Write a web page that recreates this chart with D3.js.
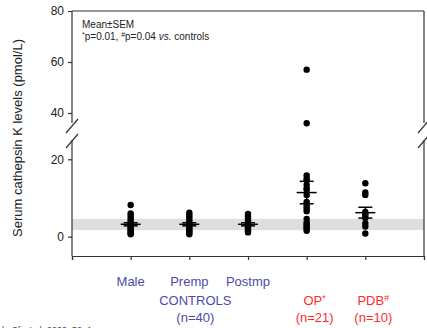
<!DOCTYPE html>
<html>
<head>
<meta charset="utf-8">
<script src="https://cdn.jsdelivr.net/npm/d3@7"></script>
<style>
  body { margin: 0; background: #fff; }
  svg { display: block; font-family: Arial, "Liberation Sans", sans-serif; }
</style>
</head>
<body>
<div id="chart"></div>
<script>
// groups, left to right
var groups = ["Male", "Premp", "Postmp", "OP", "PDB"];

// individual values (pmol/L)
var maleVals = [8.2, 6.0, 5.4, 4.8, 4.2, 3.6, 3.2, 2.8, 2.4, 2.0, 1.6, 1.2, 0.9, 0.6];
var prempVals = [6.2, 5.6, 5.0, 4.4, 3.8, 3.4, 3.0, 2.6, 2.2, 1.8, 1.4, 1.0, 0.6];
var postmpVals = [5.9, 5.3, 4.7, 4.2, 3.7, 3.3, 3.0, 2.7, 2.3, 2.0, 1.7, 1.4, 1.1];
var opVals = [57, 36, 15.8, 15.0, 14.6, 13.4, 12.5, 12.1, 10.8, 9.0, 8.5, 7.8, 7.2, 6.6,
              4.6, 3.7, 3.2, 2.8, 2.4, 2.0, 1.5];
var pdbVals = [13.8, 11.4, 10.8, 6.4, 5.9, 5.4, 4.8, 3.4, 2.6, 0.8];

// mean and SEM as drawn
var means = [3.2, 3.2, 3.2, 11.4, 6.2];
var sems = [0.4, 0.4, 0.4, 2.9, 1.4];

// reference range band
var refBand = [1.7, 4.6];

var lowTicks = [0, 20];
var highTicks = [40, 60, 80];

(function() {
    "use strict";
    var W = 427, H = 328;
    var mLeft = 72, mRight = 424, mTop = 11, mBottom = 256;
    var breakTop = 123, breakBot = 140;

    var svg = d3.select("#chart").append("svg").attr("width", W).attr("height", H);

    var x = d3.scaleLinear().domain([0, groups.length + 1]).range([mLeft, mRight]);
    var yLow = d3.scaleLinear().domain([-5, 20]).range([mBottom, 159.3]);
    var yHigh = d3.scaleLinear().domain([40, 80]).range([113, mTop]);
    function y(v) { return v >= 34 ? yHigh(v) : yLow(v); }

    // grey reference band
    svg.append("rect")
        .attr("x", mLeft).attr("width", mRight - mLeft)
        .attr("y", yLow(refBand[1])).attr("height", yLow(refBand[0]) - yLow(refBand[1]))
        .attr("fill", "#dedede");

    // frame with axis breaks
    var frame = svg.append("g").attr("stroke", "#333").attr("stroke-width", 1.2).attr("fill", "none");
    frame.append("line").attr("x1", mLeft).attr("x2", mRight).attr("y1", mTop).attr("y2", mTop);
    [mLeft, mRight].forEach(function(xx) {
        frame.append("line").attr("x1", xx).attr("x2", xx).attr("y1", mTop).attr("y2", breakTop);
        frame.append("line").attr("x1", xx).attr("x2", xx).attr("y1", breakBot).attr("y2", mBottom);
        frame.append("line").attr("x1", xx - 6).attr("x2", xx + 6).attr("y1", breakTop + 10).attr("y2", breakTop - 4);
        frame.append("line").attr("x1", xx - 6).attr("x2", xx + 6).attr("y1", breakBot + 8).attr("y2", breakBot - 6);
    });

    // y axes
    function styleAxis(g) {
        g.select(".domain").remove();
        g.selectAll("line").attr("stroke", "#333").attr("stroke-width", 1.2);
        g.selectAll("text").attr("font-size", 12).attr("fill", "#222");
    }
    svg.append("g").attr("transform", "translate(" + mLeft + ",0)")
        .call(d3.axisLeft(yLow).tickValues(lowTicks).tickSize(4).tickPadding(4))
        .call(styleAxis);
    svg.append("g").attr("transform", "translate(" + mLeft + ",0)")
        .call(d3.axisLeft(yHigh).tickValues(highTicks).tickSize(4).tickPadding(4))
        .call(styleAxis);

    // x axis
    svg.append("g").attr("transform", "translate(0," + mBottom + ")")
        .call(d3.axisBottom(x).tickValues(d3.range(0, groups.length + 2)).tickSize(4).tickFormat(""))
        .call(function(g) {
            g.select(".domain").attr("stroke", "#333").attr("stroke-width", 1.2);
            g.selectAll("line").attr("stroke", "#333").attr("stroke-width", 1.2);
        });

    // dots
    var allVals = [maleVals, prempVals, postmpVals, opVals, pdbVals];
    allVals.forEach(function(vals, i) {
        svg.append("g").selectAll("circle").data(vals).enter().append("circle")
            .attr("cx", x(i + 1)).attr("cy", function(d) { return y(d); })
            .attr("r", 3.2).attr("fill", "#000");
    });

    // mean +- SEM
    var ms = svg.append("g").attr("stroke", "#000").attr("stroke-width", 1.5);
    means.forEach(function(m, i) {
        var cx = x(i + 1);
        ms.append("line").attr("x1", cx - 10).attr("x2", cx + 10).attr("y1", y(m)).attr("y2", y(m));
        ms.append("line").attr("x1", cx - 7).attr("x2", cx + 7).attr("y1", y(m + sems[i])).attr("y2", y(m + sems[i]));
        ms.append("line").attr("x1", cx - 7).attr("x2", cx + 7).attr("y1", y(m - sems[i])).attr("y2", y(m - sems[i]));
        ms.append("line").attr("x1", cx).attr("x2", cx).attr("y1", y(m + sems[i])).attr("y2", y(m - sems[i]));
    });

    // annotation
    svg.append("text").attr("x", 82).attr("y", 28).attr("font-size", 10).attr("fill", "#222").text("Mean\u00b1SEM");
    var ann = svg.append("text").attr("x", 82).attr("y", 40).attr("font-size", 10).attr("fill", "#222");
    ann.append("tspan").attr("font-size", 7).attr("dy", -3).text("*");
    ann.append("tspan").attr("dy", 3).text("p=0.01, ");
    ann.append("tspan").attr("font-size", 7).attr("dy", -3).text("#");
    ann.append("tspan").attr("dy", 3).text("p=0.04 ");
    ann.append("tspan").attr("font-style", "italic").text("vs.");
    ann.append("tspan").text(" controls");

    // y label
    svg.append("text")
        .attr("transform", "translate(22,138) rotate(-90)")
        .attr("text-anchor", "middle").attr("font-size", 13).attr("fill", "#222")
        .text("Serum cathepsin K levels (pmol/L)");

    // x labels
    var blue = "#4b4ba8", red = "#ff2a2a";
    svg.append("g").selectAll("text").data(groups.slice(0, 3)).enter().append("text")
        .attr("x", function(d, i) { return x(i + 1); }).attr("y", 286)
        .attr("text-anchor", "middle").attr("font-size", 13).attr("fill", blue)
        .text(function(d) { return d; });
    svg.append("text").attr("x", x(2) + 6).attr("y", 305).attr("text-anchor", "middle")
        .attr("font-size", 13).attr("fill", blue).text("CONTROLS");
    svg.append("text").attr("x", x(2) + 6).attr("y", 322).attr("text-anchor", "middle")
        .attr("font-size", 13).attr("fill", blue).text("(n=40)");

    var sup = ["*", "#"];
    var nLabels = ["(n=" + opVals.length + ")", "(n=" + pdbVals.length + ")"];
    [3, 4].forEach(function(gi, k) {
        var t = svg.append("text").attr("x", x(gi + 1) + 8).attr("y", 305).attr("text-anchor", "middle")
            .attr("font-size", 13).attr("fill", red);
        t.append("tspan").text(groups[gi]);
        t.append("tspan").attr("font-size", 9).attr("dy", -4).text(sup[k]);
        svg.append("text").attr("x", x(gi + 1) + 8).attr("y", 322).attr("text-anchor", "middle")
            .attr("font-size", 13).attr("fill", red).text(nLabels[k]);
    });

    // citation, cut at the bottom edge as in the source
    svg.append("text").attr("x", 2).attr("y", 333).attr("font-size", 9).attr("fill", "#444")
        .text("k, Clin Lab 2009; 52: 1");
})();
</script>
</body>
</html>
